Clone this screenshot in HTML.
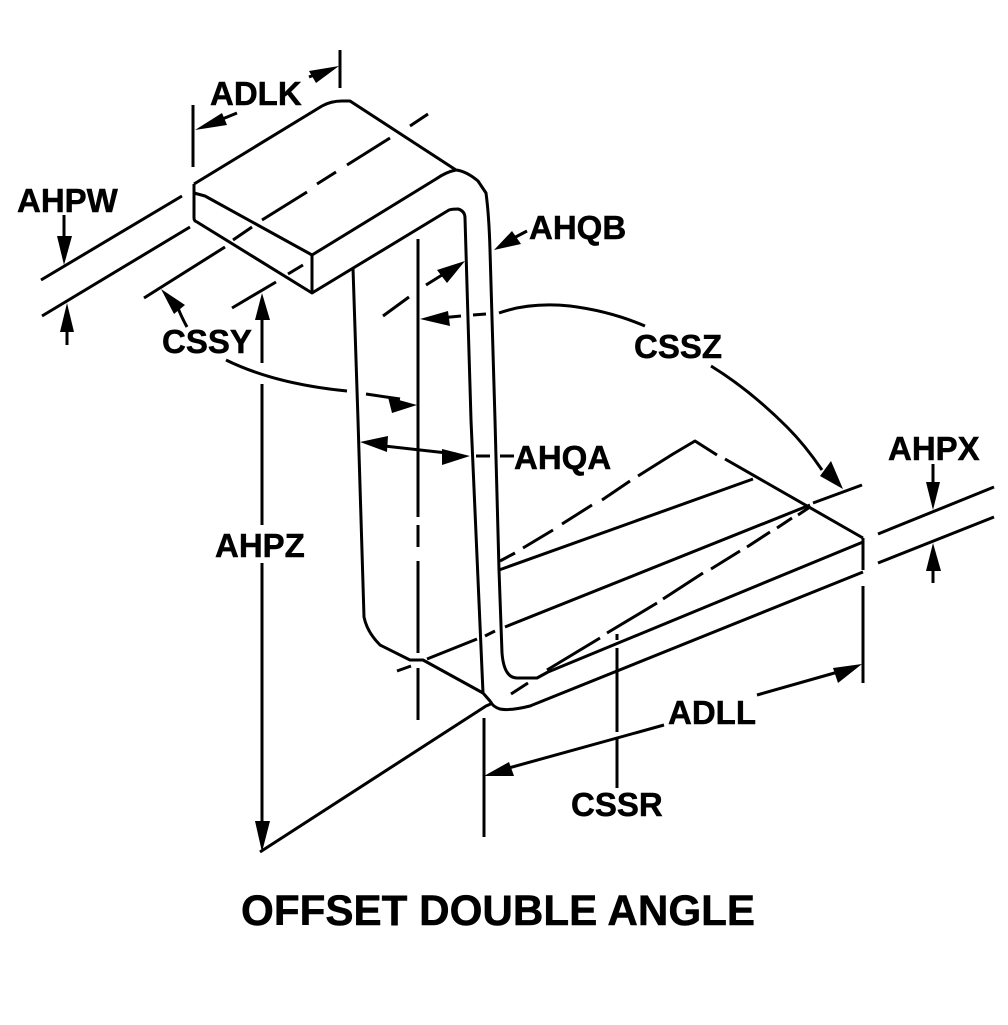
<!DOCTYPE html>
<html><head><meta charset="utf-8"><style>
html,body{margin:0;padding:0;background:#fff}
svg{display:block}
text{font-family:"Liberation Sans",sans-serif;font-weight:bold;font-size:33px;fill:#000;stroke:#000;stroke-width:.5px}
</style></head><body>
<svg width="1008" height="1025" viewBox="0 0 1008 1025" xmlns="http://www.w3.org/2000/svg">
<rect width="1008" height="1025" fill="#fff"/>
<g fill="none" stroke="#000" stroke-width="3" stroke-linejoin="round">
<!-- top flange -->
<path d="M194 184L322 106Q331 101 342 101L350 101L456 170Q466 171 478 181L486 193Q489 215 490 250L495 420L499 570L502 653Q504 678 517 678L537 678L548 672L863 542"/>
<path d="M194 184L194 218Q194 221 197 222L312 293L449 210Q452 209 458 209Q465 211 465 218L471 420L483 693"/>
<path d="M194 193L205 196L312 255L436 179Q446 172 456 170"/>
<path d="M312 255V293"/>
<path d="M353 268L358 420L364 617Q367 632 380 645L410 660L423 660L483 693L490 701Q493 707 500 709Q510 711 530 706L863 572"/>
<path d="M863 538V570"/>
<path d="M260 852L486 706L493 703"/>
<!-- lower flange -->
<path d="M499 570L753 479"/>
<path d="M505 627L810 505"/>
<!-- dashed lines -->
<path d="M144 298L225 247M233 240L252 227M262 220L307 192M317 184L336 172M347 165L390 138M410 126L428 114"/>
<path d="M232 308L276 282M288 274L303 265"/>
<path d="M383 316L409 297"/>
<path d="M397 671L411 666M427 659L477 639M485 636L495 631"/>
<path d="M500 561L515 553M523 548L553 530M562 524L592 505M602 500L630 481M638 476L673 454L695 441L717 455M725 459L863 538"/>
<path d="M511 694L528 683M547 670L600 638M607 633L657 603M663 599L703 573M711 569L740 551M747 547L770 532M777 528L792 518M798 515L810 507"/>
<path d="M813 503L862 485"/>
<path d="M418 239V517M418 525V547M418 561V653M418 668V720"/>
<path d="M617 634V640M617 648V732M617 738V788"/>
<!-- extension lines -->
<path d="M193 105V167M340 50V88"/>
<path d="M41 280L182 196M42 316L190 227"/>
<path d="M878 534L994 487M878 563L994 517"/>
<path d="M863 586V683M484 718V837"/>
<!-- dimension lines -->
<path d="M64 215V250M67 345V320"/>
<path d="M933 464V490M933 583V560"/>
<path d="M237 113L215 122M309 77L322 72"/>
<path d="M262 310V363M262 384V525M262 563V835"/>
<path d="M187 327Q181 316 178 308"/>
<path d="M226 360Q275 384 347 391M366 394L400 399"/>
<path d="M527 231L510 240"/>
<path d="M426 285L450 270"/>
<path d="M375 445L456 454M476 456H490M500 456H514"/>
<path d="M461 316L440 318M473 315L486 314M499 313Q530 302 570 306Q610 311 645 326"/>
<path d="M711 366Q750 390 787 427Q805 445 822 470"/>
<path d="M664 725L505 769M757 695L845 670"/>
</g>
<!-- arrowheads -->
<g fill="#000" stroke="none">
<polygon points="64,265 57,236 72,236"/>
<polygon points="67,303 60,332 74,332"/>
<polygon points="933,510 926,482 940,482"/>
<polygon points="933,543 926,571 941,571"/>
<polygon points="195,130 222,113 227,125"/>
<polygon points="339,66 309,71 316,83"/>
<polygon points="262,293 255,320 270,320"/>
<polygon points="262,852 255,821 270,821"/>
<polygon points="161,289 185,305 174,314"/>
<polygon points="417,405 388,397 392,413"/>
<polygon points="494,250 512,231 521,244"/>
<polygon points="465,261 437,270 447,283"/>
<polygon points="360,442 388,436 387,452"/>
<polygon points="470,456 442,449 442,465"/>
<polygon points="420,319 448,311 450,326"/>
<polygon points="843,489 820,476 831,461"/>
<polygon points="484,776 509,762 514,776"/>
<polygon points="862,664 833,668 838,683"/>
</g>
<!-- labels -->
<text x="210" y="105">ADLK</text>
<text x="17" y="212">AHPW</text>
<text x="162" y="353">CSSY</text>
<text x="529" y="239">AHQB</text>
<text x="634" y="358">CSSZ</text>
<text x="514" y="469">AHQA</text>
<text x="888" y="460">AHPX</text>
<text x="215" y="557">AHPZ</text>
<text x="668" y="724">ADLL</text>
<text x="571" y="816">CSSR</text>
<text x="241" y="925" style="font-size:42.2px">OFFSET DOUBLE ANGLE</text>
</svg>
</body></html>
